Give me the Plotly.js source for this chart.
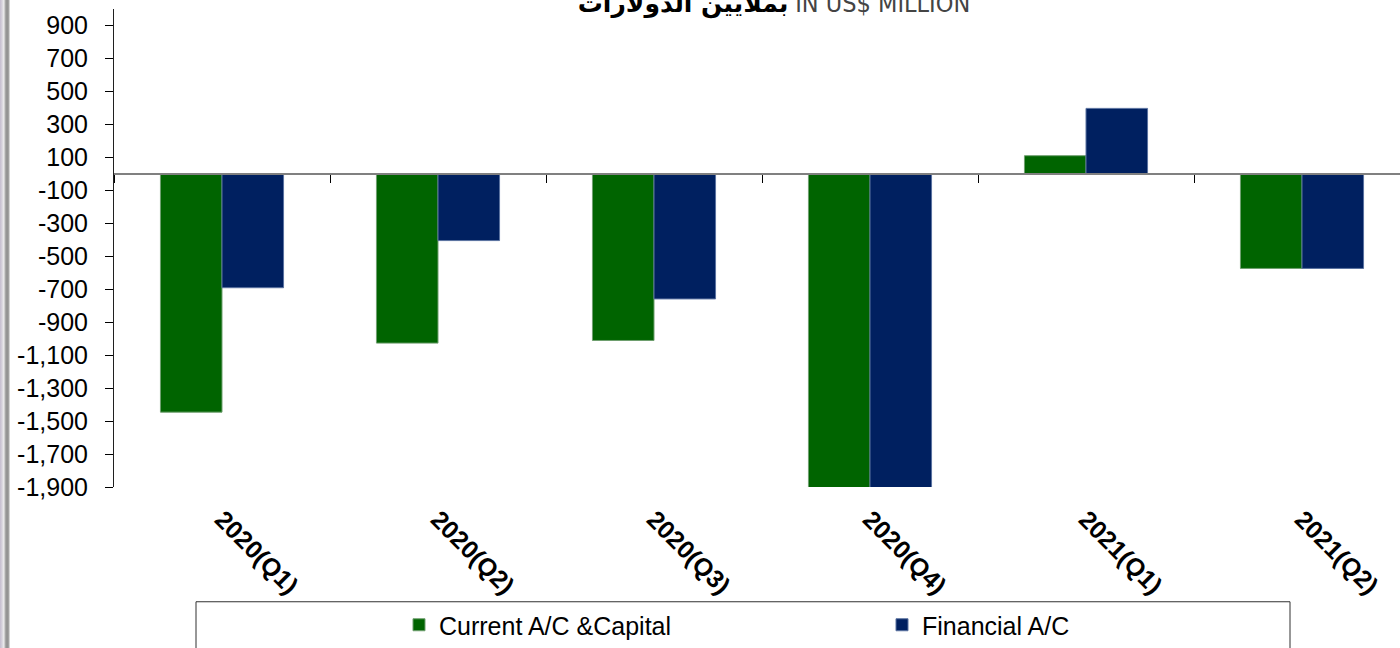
<!DOCTYPE html>
<html>
<head>
<meta charset="utf-8">
<script src="https://cdn.plot.ly/plotly-3.0.1.min.js"></script>
<style>
  html, body { margin: 0; padding: 0; background: #ffffff; }
  #chart { width: 1400px; height: 648px; position: relative; }
  #frame { position: absolute; left: 0; top: 0; width: 10px; height: 648px; z-index: 10;
    background: linear-gradient(to right, #c4bccf 0px, #d6d2dc 2px, #eeeeee 4px, #b0b0b0 5px, #8c8c8c 7px, #a8a8a8 9px, #ffffff 10px); }
</style>
</head>
<body>
<div id="frame"></div>
<div id="chart"></div>
<script>
const categories = ["2020(Q1)", "2020(Q2)", "2020(Q3)", "2020(Q4)", "2021(Q1)", "2021(Q2)"];
const currentCapital = [-1446, -1027, -1011, -1912, 110, -574];
const financial = [-691, -405, -759, -1912, 397, -574];
const yTickVals = [-1900, -1700, -1500, -1300, -1100, -900, -700, -500, -300, -100, 100, 300, 500, 700, 900];
const yTickText = ["-1,900", "-1,700", "-1,500", "-1,300", "-1,100", "-900", "-700", "-500", "-300", "-100", "100", "300", "500", "700", "900"];
const seriesNames = ["Current A/C &Capital", "Financial A/C"];
const titleArabic = "بملايين الدولارات";
const titleEnglish = "IN US$ MILLION";

const yMin = -1900, yMax = 1000;
const zeroPos = (0 - yMin) / (yMax - yMin);

const traces = [
  {
    type: "bar", name: seriesNames[0], x: categories, y: currentCapital,
    marker: { color: "#006400", line: { color: "#6f9f6f", width: 1 } },
    hoverinfo: "x+y"
  },
  {
    type: "bar", name: seriesNames[1], x: categories, y: financial,
    marker: { color: "#002060", line: { color: "#5a72a0", width: 1 } },
    hoverinfo: "x+y"
  }
];

const plotL = 114, plotR = 0, plotT = 9, plotB = 160;
const plotW = 1400 - plotL - plotR, plotH = 648 - plotT - plotB;
const px2x = p => (p - plotL) / plotW;
const py2y = p => (648 - plotB - p) / plotH;

const layout = {
  width: 1400, height: 648,
  paper_bgcolor: "#ffffff", plot_bgcolor: "#ffffff",
  margin: { l: plotL, r: plotR, t: plotT, b: plotB, pad: 0 },
  font: { family: "Liberation Sans, Arial, sans-serif", size: 24, color: "#000000" },
  title: {
    text: '<span style="font-family:DejaVu Sans;font-weight:bold;color:#000">' + titleArabic + '</span> ' +
          '<span style="font-family:Liberation Sans Narrow, DejaVu Sans Condensed;color:#444">' + titleEnglish + '</span>',
    x: 774 / 1400, xanchor: "center", xref: "container",
    y: 0.995, yanchor: "middle", yref: "container",
    font: { size: 25, color: "#000" }
  },
  barmode: "group",
  bargap: 0.43,
  bargroupgap: 0,
  showlegend: true,
  legend: {
    orientation: "h",
    x: px2x(399), xanchor: "left",
    y: py2y(626), yanchor: "middle",
    bgcolor: "rgba(0,0,0,0)",
    borderwidth: 0,
    font: { family: "Liberation Sans, Arial, sans-serif", size: 25, color: "#000" },
    entrywidth: 438, entrywidthmode: "pixels",
    traceorder: "normal"
  },
  xaxis: {
    type: "category",
    range: [-0.5, -0.5 + plotW / 216],
    anchor: "free", position: zeroPos,
    showline: true, linecolor: "#808080", linewidth: 2,
    ticks: "outside", tickson: "boundaries", ticklen: 8, tickwidth: 1, tickcolor: "#000000",
    showgrid: false, zeroline: false,
    tickangle: 45,
    ticklabelstandoff: 320,
    tickfont: { family: "Liberation Sans, Arial, sans-serif", size: 25, color: "#000", weight: "bold" },
    fixedrange: true
  },
  yaxis: {
    range: [yMin, yMax],
    tickvals: yTickVals, ticktext: yTickText,
    showline: true, linecolor: "#202020", linewidth: 1,
    ticks: "outside", ticklen: 8, tickwidth: 1, tickcolor: "#000",
    ticklabelstandoff: 12,
    showgrid: false, zeroline: false,
    tickfont: { family: "Liberation Sans, Arial, sans-serif", size: 25, color: "#000" },
    fixedrange: true
  },
  shapes: [
    {
      type: "rect", xref: "paper", yref: "paper",
      x0: px2x(196), x1: px2x(1290), y0: py2y(603), y1: py2y(660),
      line: { color: "#303030", width: 1 }, fillcolor: "rgba(0,0,0,0)", layer: "below"
    }
  ]
};

Plotly.newPlot("chart", traces, layout, { displayModeBar: false, staticPlot: false });
</script>
</body>
</html>
